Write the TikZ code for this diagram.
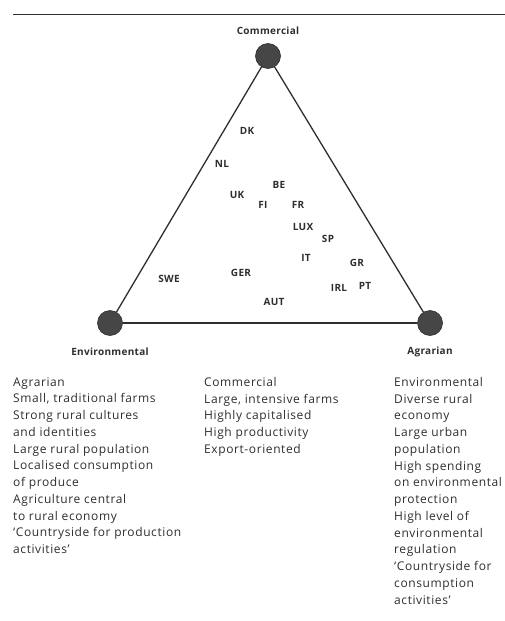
\documentclass[tikz,border=0pt]{standalone}
\usepackage{fontspec}
\setmainfont{Open Sans}
\newfontfamily\bodyfont[LetterSpace=5,Ligatures=TeX]{Open Sans}
\newfontfamily\labelfont[LetterSpace=3,Ligatures=TeX]{Open Sans}
\definecolor{ink}{HTML}{2E2E2E}
\definecolor{vtx}{HTML}{464646}
\begin{document}
\begin{tikzpicture}[x=1pt,y=-1pt,
  corner/.style={circle,fill=vtx,draw=ink,line width=0.6pt,minimum size=25pt,inner sep=0pt},
  edge/.style={draw=ink,line width=1.3pt},
  country/.style={font=\labelfont\fontsize{10}{11}\selectfont\bfseries,text=ink,inner sep=0pt},
  pole/.style={font=\labelfont\fontsize{10}{11}\selectfont\bfseries,text=ink,inner sep=0pt},
  column/.style={font=\bodyfont\fontsize{12}{16.75}\selectfont,text=ink,align=left,anchor=north west,inner sep=0pt}]
\useasboundingbox (0,0) rectangle (505,621);

% rule above the figure
\coordinate (ruleL) at (13,14);
\coordinate (ruleR) at (505,14);
\draw[ink,line width=1pt] (ruleL) -- (ruleR);

% the three poles
\node[corner] (com) at (268,56) {};
\node[corner] (env) at (110,323) {};
\node[corner] (agr) at (430,323) {};
\draw[edge] (com) -- (env);
\draw[edge] (com) -- (agr);
\draw[edge] (env) -- (agr);

\node[pole] (comL) at (268,31) {Commercial};
\node[pole] (envL) at (110,352) {Environmental};
\node[pole] (agrL) at (430,352) {Agrarian};

% member states
\node[country] (dk)  at (247,131) {DK};
\node[country] (nl)  at (222,164) {NL};
\node[country] (be)  at (279,185) {BE};
\node[country] (uk)  at (237,195) {UK};
\node[country] (fi)  at (263,205) {FI};
\node[country] (fr)  at (298,205) {FR};
\node[country] (lux) at (303,227) {LUX};
\node[country] (sp)  at (328,239) {SP};
\node[country] (it)  at (306,258) {IT};
\node[country] (gr)  at (357,263) {GR};
\node[country] (swe) at (169,279) {SWE};
\node[country] (ger) at (241,273) {GER};
\node[country] (irl) at (339,288) {IRL};
\node[country] (pt)  at (365,286) {PT};
\node[country] (aut) at (274,302) {AUT};

% descriptions of the three types
\node[column] (agrT) at (13,377) {Agrarian\\
Small, traditional farms\\
Strong rural cultures\\
and identities\\
Large rural population\\
Localised consumption\\
of produce\\
Agriculture central\\
to rural economy\\
‘Countryside for production\\
activities’};

\node[column] (comT) at (204,377) {Commercial\\
Large, intensive farms\\
Highly capitalised\\
High productivity\\
Export-oriented};

\node[column] (envT) at (394,377) {Environmental\\
Diverse rural\\
economy\\
Large urban\\
population\\
High spending\\
on environmental\\
protection\\
High level of\\
environmental\\
regulation\\
‘Countryside for\\
consumption\\
activities’};
\end{tikzpicture}
\end{document}
